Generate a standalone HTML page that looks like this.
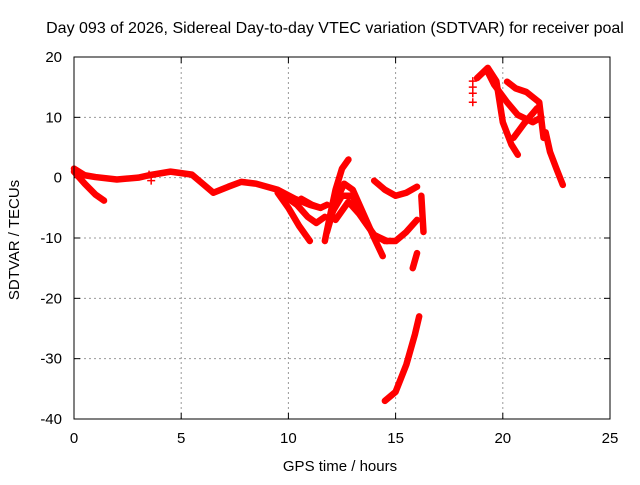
<!DOCTYPE html>
<html><head><meta charset="utf-8"><style>
body{margin:0;background:#fff}
svg{font-family:"Liberation Sans",Arial,sans-serif;font-size:15px}
</style></head><body>
<svg id="c" width="640" height="480">
<text x="335" y="33" text-anchor="middle" font-size="16">Day 093 of 2026, Sidereal Day-to-day VTEC variation (SDTVAR) for receiver poal</text>
<text x="340" y="471" text-anchor="middle">GPS time / hours</text>
<text transform="translate(19,240) rotate(-90)" text-anchor="middle">SDTVAR / TECUs</text>
<g id="grid"></g><g id="axes"></g><g id="marks"></g>
<rect x="74" y="57" width="536" height="362" fill="none" stroke="#000" stroke-width="1"/>
</svg>
<script>
const xTicks=[0,5,10,15,20,25];
const yTicks=[20,10,0,-10,-20,-30,-40];
const trackA=[[0,1.5],[0.5,0.4],[1,0.1],[2,-0.3],[3,0],[3.5,0.4],[4.5,1],[5.5,0.5],[6,-1],[6.5,-2.5],[7.2,-1.5],[7.8,-0.7],[8.5,-1],[9.5,-2],[10.3,-3.5],[11,-4.5],[11.5,-5]];
const trackB=[[0,1],[0.5,-1],[1,-2.8],[1.4,-3.8]];
const trackC=[[9.5,-2.5],[10,-5],[10.5,-8],[11,-10.5]];
const trackD=[[9.8,-3],[10.4,-4.5],[10.9,-6.5],[11.3,-7.5],[11.7,-6.5]];
const trackE=[[10.6,-3.5],[11.1,-4.5],[11.5,-5],[11.8,-4.5]];
const trackF=[[11.7,-10.5],[11.9,-7],[12.2,-2],[12.5,1.5],[12.8,3]];
const trackG=[[11.8,-9],[12.2,-4],[12.6,-1],[13,-2],[13.5,-6],[14,-10],[14.4,-13]];
const trackH=[[12,-6],[12.5,-3],[13,-3],[13.5,-7],[14,-9.5],[14.5,-10.5],[15,-10.5],[15.5,-9],[16,-7]];
const trackI=[[12.2,-7],[12.8,-4],[13.3,-6],[14,-9.5],[14.6,-10.5]];
const trackJ=[[14,-0.5],[14.5,-2],[15,-3],[15.5,-2.5],[16,-1.5]];
const trackK=[[16.2,-3],[16.25,-6],[16.3,-9]];
const trackL=[[15.8,-15],[16,-12.5]];
const trackM=[[14.5,-37],[15,-35.5],[15.5,-31],[15.9,-26],[16.1,-23]];
const trackN=[[18.8,16.5],[19.3,18.2],[19.7,16],[20,9.2],[20.4,5.5],[20.7,3.8]];
const trackO=[[19.3,17.5],[19.6,15.4],[20.2,12.5],[20.7,10.4],[21.4,9.2],[21.8,10]];
const trackP=[[20.2,15.9],[20.6,14.8],[21.1,14.2],[21.7,12.5],[21.9,6.6]];
const trackQ=[[20.5,6.6],[21,9],[21.6,11.5]];
const trackR=[[22,7.5],[22.2,4.3],[22.5,1.5],[22.8,-1.2]];
const crossPts=[[18.6,16],[18.6,15],[18.6,14],[18.6,12.5],[3.5,0.5],[3.6,-0.5]];
const tracks=[trackA,trackB,trackC,trackD,trackE,trackF,trackG,trackH,trackI,trackJ,trackK,trackL,trackM,trackN,trackO,trackP,trackQ,trackR];
const X=h=>74+h*536/25, Y=v=>57+(20-v)*362/60;
const NS="http://www.w3.org/2000/svg";
const grid=document.getElementById('grid'),axes=document.getElementById('axes'),marks=document.getElementById('marks');
function mk(t,a,p){const e=document.createElementNS(NS,t);for(const k in a)e.setAttribute(k,a[k]);p.appendChild(e);return e;}
xTicks.forEach(t=>{
 if(t>0&&t<25){const g=mk('line',{x1:X(t),x2:X(t),y1:57,y2:419,stroke:'#999','stroke-dasharray':'2,3'},grid);
 
 }
 mk('line',{x1:X(t),x2:X(t),y1:419,y2:413,stroke:'#000'},axes);
 mk('line',{x1:X(t),x2:X(t),y1:57,y2:63,stroke:'#000'},axes);
 const l=mk('text',{x:X(t),y:443,'text-anchor':'middle'},axes);l.textContent=t;
 
 
});
yTicks.forEach(t=>{
 if(t>-40&&t<20){const g=mk('line',{x1:74,x2:610,y1:Y(t),y2:Y(t),stroke:'#999','stroke-dasharray':'2,3'},grid);
 
 }
 mk('line',{x1:74,x2:80,y1:Y(t),y2:Y(t),stroke:'#000'},axes);
 mk('line',{x1:610,x2:604,y1:Y(t),y2:Y(t),stroke:'#000'},axes);
 const l=mk('text',{x:62,y:Y(t)+5,'text-anchor':'end'},axes);l.textContent=t;
 
 
});
tracks.forEach(tr=>{
 const p=mk('polyline',{points:tr.map(d=>X(d[0])+','+Y(d[1])).join(' '),fill:'none',stroke:'#f00','stroke-width':6.5,'stroke-linejoin':'round','stroke-linecap':'round'},marks);
 
 
});
crossPts.forEach(d=>{
 const p=mk('path',{d:`M${X(d[0])-4},${Y(d[1])}h8M${X(d[0])},${Y(d[1])-4}v8`,stroke:'#f00','stroke-width':1.5},marks);
 
 
});
</script>
</body></html>
